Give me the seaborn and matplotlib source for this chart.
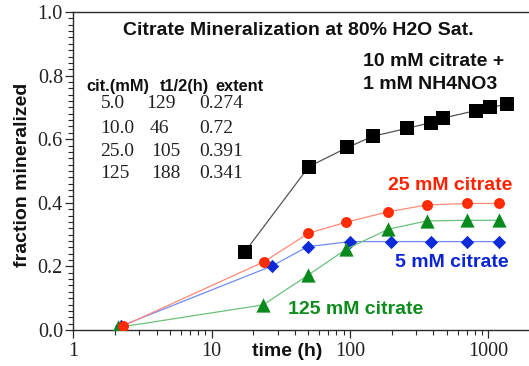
import numpy as np
import pandas as pd
import matplotlib
matplotlib.use("Agg")
import matplotlib.pyplot as plt
import seaborn as sns
from matplotlib.ticker import FixedLocator, FixedFormatter, NullFormatter

# --- data -------------------------------------------------------------------
# 10 mM citrate + 1 mM NH4NO3
t_nh4 = [17.4, 50.6, 96, 146, 258, 385, 469, 812, 1031, 1361]
f_nh4 = [0.246, 0.514, 0.574, 0.609, 0.634, 0.652, 0.666, 0.690, 0.700, 0.710]
# 25 mM citrate
t_25 = [2.3, 24, 50, 94, 190, 359, 700, 1197]
f_25 = [0.013, 0.215, 0.304, 0.339, 0.372, 0.393, 0.398, 0.398]
# 5 mM citrate
t_5 = [2.2, 27.2, 49.5, 100, 198, 386, 700, 1197]
f_5 = [0.012, 0.201, 0.262, 0.278, 0.278, 0.278, 0.278, 0.278]
# 125 mM citrate
t_125 = [2.1, 23.6, 50, 94, 190, 359, 700, 1197]
f_125 = [0.008, 0.079, 0.173, 0.254, 0.317, 0.343, 0.345, 0.345]

# fitted parameters table
tab_cit = ["5.0", "10.0", "25.0", "125"]
tab_thalf = ["129", "46", "105", "188"]
tab_extent = ["0.274", "0.72", "0.391", "0.341"]
tab_header = ["cit.(mM)", "t1/2(h)", "extent"]

x_major = [1, 10, 100, 1000]
x_major_labels = ["1", "10", "100", "1000"]
y_major = [0.0, 0.2, 0.4, 0.6, 0.8, 1.0]
y_major_labels = ["0.0", "0.2", "0.4", "0.6", "0.8", "1.0"]

# --- figure -----------------------------------------------------------------
sns.set_theme(style="ticks")
plt.rcParams["font.family"] = ["Liberation Sans", "DejaVu Sans"]

W, H = 529, 366
fig = plt.figure(figsize=(W / 100, H / 100), dpi=100)
x0, y_bot, y_top = 73.3, 330, 12
ax = fig.add_axes([x0 / W, (H - y_bot) / H, (W - x0) / W, (y_bot - y_top) / H])
ax.set_facecolor("white")
fig.patch.set_facecolor("white")

series = [
    # times, values, marker, size, marker colour, line colour, zorder
    (t_5, f_5, "D", 46, "#0b2ad8", "#6f8cf2", 3),
    (t_125, f_125, "^", 105, "#0a8a1c", "#6cc17a", 4),
    (t_25, f_25, "o", 62, "#ff2a06", "#ff8a78", 5),
    (t_nh4, f_nh4, "s", 110, "#000000", "#555555", 6),
]
for t, f, mk, s, mc, lc, z in series:
    sns.lineplot(x=t, y=f, ax=ax, color=lc, linewidth=0.9, sort=False,
                 estimator=None, zorder=z - 0.5, legend=False)
    sns.scatterplot(x=t, y=f, ax=ax, marker=mk, s=s, color=mc, linewidth=0,
                    zorder=z, legend=False)

ax.set_xscale("log")
ax.set_xlim(1, 10 ** ((W - x0) / 138.3))
ax.set_ylim(0, 1.0)

ax.xaxis.set_major_locator(FixedLocator(x_major))
ax.xaxis.set_major_formatter(FixedFormatter(x_major_labels))
x_minor = [m * 10 ** d for d in range(0, 4) for m in range(2, 10)]
ax.xaxis.set_minor_locator(FixedLocator(x_minor))
ax.xaxis.set_minor_formatter(NullFormatter())

ax.yaxis.set_major_locator(FixedLocator(y_major))
ax.yaxis.set_major_formatter(FixedFormatter(y_major_labels))
ax.yaxis.set_minor_locator(FixedLocator(np.round(np.arange(0, 1.001, 0.02), 2)))

for side in ["left", "bottom", "top"]:
    ax.spines[side].set_color("#2a2a2a")
    ax.spines[side].set_linewidth(1.0)
ax.spines["right"].set_visible(False)

ax.tick_params(axis="both", which="major", direction="out", length=6,
               width=0.9, color="#2a2a2a", labelsize=14.5, pad=1.5)
ax.tick_params(axis="both", which="minor", direction="out", length=3.6,
               width=0.8, color="#2a2a2a")
ax.tick_params(axis="x", which="major", pad=3)
for lab in ax.get_xticklabels() + ax.get_yticklabels():
    lab.set_family(["Liberation Serif", "DejaVu Serif"])
    lab.set_color("#222222")

ax.set_xlabel("time (h)", fontsize=14, fontweight="bold", color="#111111")
ax.set_ylabel("fraction mineralized", fontsize=14, fontweight="bold",
              color="#111111")
ax.xaxis.set_label_coords((287.5 - x0) / (W - x0), -0.040)
ax.yaxis.set_label_coords(-0.092, 0.487)


def ftext(px, py, s, **kw):
    fig.text(px / W, 1 - py / H, s, va="baseline", **kw)


bold = dict(fontweight="bold", fontsize=14)
ftext(122.7, 35, "Citrate Mineralization at 80% H2O Sat.", color="#111111", **bold)
ftext(363.3, 66, "10 mM citrate +", color="#111111", **bold)
ftext(363.3, 89, "1 mM NH4NO3", color="#111111", **bold)
ftext(387.7, 190, "25 mM citrate", color="#ff2200", **bold)
ftext(395, 267, "5 mM citrate", color="#0b24d4", **bold)
ftext(288.3, 314, "125 mM citrate", color="#0d8c1e", **bold)

# table of fitted parameters
for hx, h in zip([86.7, 160, 215], tab_header):
    ftext(hx, 90.7, h, fontweight="bold", fontsize=11.8, color="#111111")
row_y = [108.3, 133.3, 156, 178.3]
c2_x = [146.7, 150, 151.7, 151.7]
serif = dict(family=["Liberation Serif", "DejaVu Serif"], fontsize=14,
             color="#222222")
for i in range(len(tab_cit)):
    ftext(100.5, row_y[i], tab_cit[i], **serif)
    ftext(c2_x[i], row_y[i], tab_thalf[i], **serif)
    ftext(199.3, row_y[i], tab_extent[i], **serif)

fig.savefig("out.png", dpi=100, facecolor="white")
